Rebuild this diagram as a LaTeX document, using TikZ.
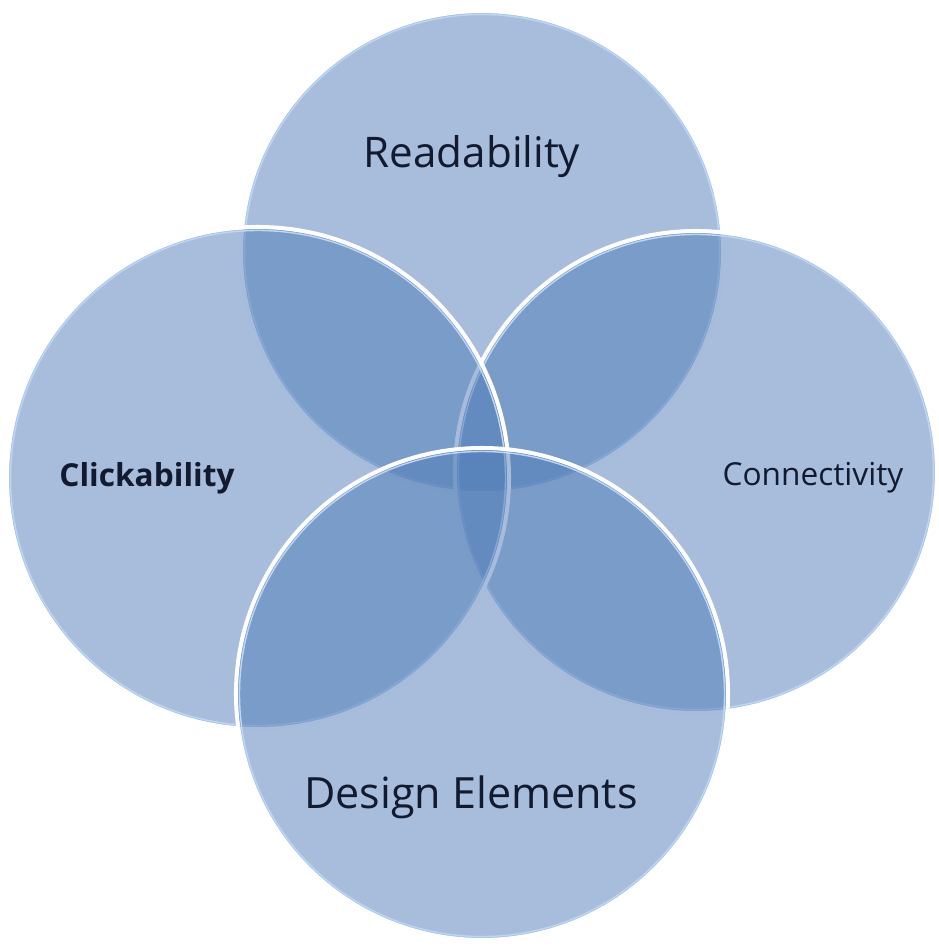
\documentclass[tikz,border=0pt]{standalone}
\usepackage{fontspec}
\setmainfont{Open Sans}
\definecolor{vennblue}{RGB}{79,123,183}
\definecolor{rimblue}{RGB}{190,214,245}
\definecolor{labelnavy}{RGB}{18,26,48}
\tikzset{
  venn/.style={fill=vennblue, fill opacity=0.5},
  rim/.style={draw=white, line width=2.3pt},
  innerrim/.style={draw=rimblue, line width=0.8pt},
  vlabel/.style={text=labelnavy, inner sep=0pt}
}
\begin{document}
\begin{tikzpicture}[x=0.02cm,y=-0.02cm]
\useasboundingbox (0,0) rectangle (939,947);

% Define the centres of the four circles
\coordinate (R) at (482,252);
\coordinate (Ri) at (696,472);
\coordinate (L) at (258,478);
\coordinate (D) at (482,694);

% Top circle
\fill[venn] (R) circle[radius=241];
\draw[innerrim] (R) circle[radius=237.5];
\draw[rim] (R) circle[radius=241];
% Right circle
\fill[venn] (Ri) circle[radius=241];
\draw[innerrim] (Ri) circle[radius=237.5];
\draw[rim] (Ri) circle[radius=241];
% Left circle
\fill[venn] (L) circle[radius=251];
\draw[innerrim] (L) circle[radius=247.5];
\draw[rim] (L) circle[radius=251];
% Bottom circle
\fill[venn] (D) circle[radius=246];
\draw[innerrim] (D) circle[radius=242.5];
\draw[rim] (D) circle[radius=246];

% Label the four circles
\node[vlabel, font=\fontsize{24}{29}\selectfont] (read) at (472,157) {Readability};
\node[vlabel, font=\bfseries\fontsize{18}{22}\selectfont] (click) at (147,478) {Clickability};
\node[vlabel, font=\fontsize{18}{22}\selectfont] (conn) at (813,478) {Connectivity};
\node[vlabel, font=\fontsize{24.5}{29}\selectfont] (design) at (471,797) {Design Elements};

\end{tikzpicture}
\end{document}
